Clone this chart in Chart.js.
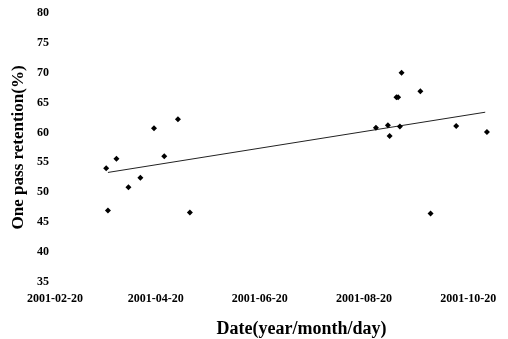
<!DOCTYPE html>
<html>
<head>
<meta charset="utf-8">
<script src="https://cdn.jsdelivr.net/npm/chart.js@4/dist/chart.umd.min.js"></script>
<style>
  html, body { margin: 0; padding: 0; background: #fff; }
  #wrap { width: 508px; height: 339px; }
</style>
</head>
<body>
<div id="wrap"><canvas id="myChart"></canvas></div>
<script>
// sample dates and one pass retention (%)
const sampleDates = [
  "2001-03-22", "2001-03-23", "2001-03-28", "2001-04-04", "2001-04-11",
  "2001-04-19", "2001-04-25", "2001-05-03", "2001-05-10",
  "2001-08-27", "2001-09-03", "2001-09-04", "2001-09-08", "2001-09-09",
  "2001-09-10", "2001-09-11", "2001-09-22", "2001-09-28", "2001-10-13",
  "2001-10-31",
];
const retention = [
  54.0, 46.9, 55.6, 50.8, 52.4,
  60.7, 56.0, 62.2, 46.6,
  60.8, 61.2, 59.4, 65.9, 65.9,
  61.0, 70.0, 66.9, 46.4, 61.1,
  60.1,
];
// linear trend line, end points
const trendDates = ["2001-03-23", "2001-10-30"];
const trendValues = [53.3, 63.4];

const xTickDates = ["2001-02-20", "2001-04-20", "2001-06-20", "2001-08-20", "2001-10-20"];
const yTicks = [35, 40, 45, 50, 55, 60, 65, 70, 75, 80];

const toPoints = (dates, vals) => dates.map((d, i) => ({ x: Date.parse(d), y: vals[i] }));
const fmtDate = (v) => new Date(v).toISOString().slice(0, 10);

const tickFont = { family: "'Liberation Serif', 'Times New Roman', serif", size: 12, weight: "bold" };

const xTitle = {
  id: "xTitle",
  afterDraw(chart) {
    const ctx = chart.ctx;
    const area = chart.chartArea;
    ctx.save();
    ctx.font = "bold 18px 'Liberation Serif', 'Times New Roman', serif";
    ctx.fillStyle = "#000";
    ctx.textAlign = "center";
    ctx.textBaseline = "middle";
    ctx.fillText("Date(year/month/day)", (area.left + area.right) / 2 + 22, 329);
    ctx.restore();
  },
};

const ctx = document.getElementById("myChart").getContext("2d");
const myChart = new Chart(ctx, {
  type: "scatter",
  data: {
    datasets: [
      {
        label: "retention",
        data: toPoints(sampleDates, retention),
        pointStyle: "rectRot",
        pointRadius: 3,
        backgroundColor: "#000",
        borderColor: "#000",
        borderWidth: 0,
      },
      {
        label: "trend",
        type: "line",
        data: toPoints(trendDates, trendValues),
        borderColor: "#222",
        borderWidth: 1,
        pointRadius: 0,
        fill: false,
      },
    ],
  },
  plugins: [xTitle],
  options: {
    responsive: true,
    maintainAspectRatio: false,
    animation: false,
    layout: { padding: { top: 10, right: 0, bottom: 23, left: 10 } },
    plugins: {
      legend: { display: false },
      tooltip: { enabled: false },
    },
    scales: {
      x: {
        type: "linear",
        min: Date.parse("2001-02-20"),
        max: Date.parse("2001-11-10"),
        grid: { display: false, drawTicks: false },
        border: { display: false },
        afterBuildTicks: (scale) => {
          scale.ticks = xTickDates.map((d) => ({ value: Date.parse(d) }));
        },
        ticks: {
          autoSkip: false,
          maxRotation: 0,
          padding: 10,
          color: "#000",
          font: tickFont,
          callback: (v) => fmtDate(v),
        },
      },
      y: {
        min: 35,
        max: 80,
        grid: { display: false, drawTicks: false },
        border: { display: false },
        afterBuildTicks: (scale) => {
          scale.ticks = yTicks.map((v) => ({ value: v }));
        },
        ticks: { padding: 6, color: "#000", font: tickFont },
        title: {
          display: true,
          text: "One pass retention(%)",
          color: "#000",
          font: { family: "'Liberation Serif', 'Times New Roman', serif", size: 17, weight: "bold", lineHeight: 1 },
          padding: { top: 0, bottom: 4 },
        },
      },
    },
  },
});
</script>
</body>
</html>
